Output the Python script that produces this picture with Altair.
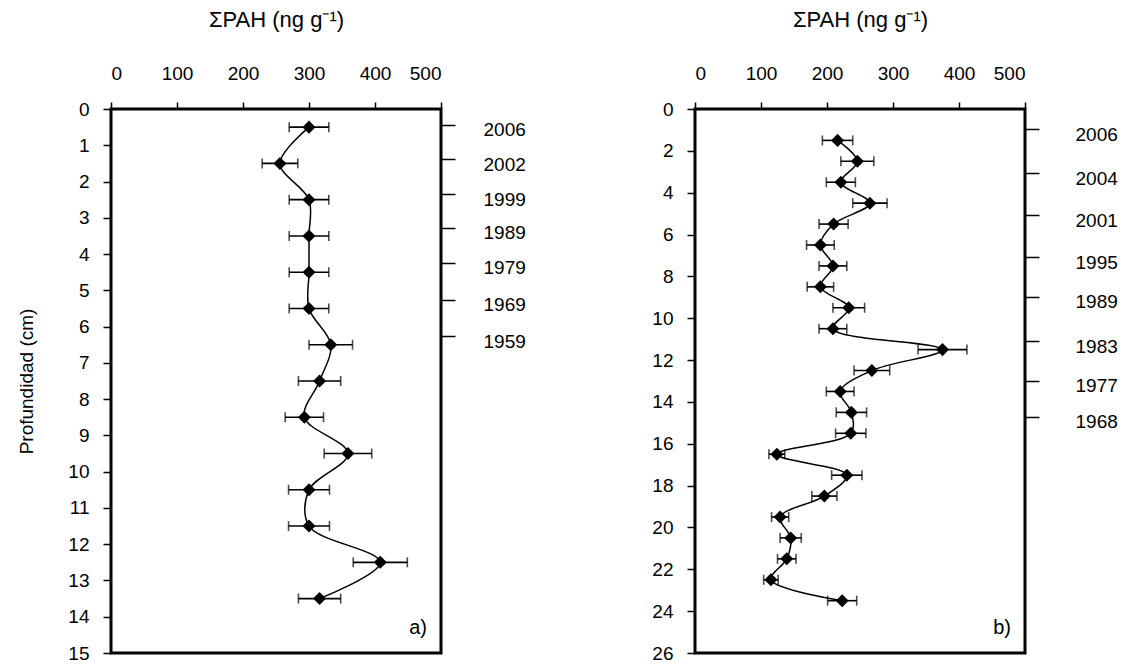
import altair as alt
import pandas as pd

FONT = "Liberation Sans"
FS = 19
TFS = 22

# Panel a)
depth_a = [0.5, 1.5, 2.5, 3.5, 4.5, 5.5, 6.5, 7.5, 8.5, 9.5, 10.5, 11.5, 12.5, 13.5]
pah_a = [300, 256, 300, 300, 300, 300, 333, 316, 293, 359, 300, 300, 408, 316]
err_a = [30, 27, 30, 30, 30, 30, 33, 32, 29, 36, 31, 31, 41, 32]
year_depth_a = [0.44, 1.38, 2.35, 3.28, 4.24, 5.26, 6.27]
year_label_a = ["2006", "2002", "1999", "1989", "1979", "1969", "1959"]

# Panel b)
depth_b = [1.5, 2.5, 3.5, 4.5, 5.5, 6.5, 7.5, 8.5, 9.5, 10.5, 11.5, 12.5,
           13.5, 14.5, 15.5, 16.5, 17.5, 18.5, 19.5, 20.5, 21.5, 22.5, 23.5]
pah_b = [216, 246, 221, 265, 210, 190, 209, 190, 233, 209, 375, 268,
         220, 237, 236, 124, 230, 196, 129, 145, 139, 115, 223]
err_b = [23, 25, 22, 26, 22, 21, 21, 20, 24, 21, 37, 27,
         21, 23, 23, 12, 23, 19, 13, 16, 14, 11, 22]
year_depth_b = [0.96, 3.06, 5.07, 7.09, 8.97, 11.1, 12.98, 14.7]
year_label_b = ["2006", "2004", "2001", "1995", "1989", "1983", "1977", "1968"]

x_ticks = [0, 100, 200, 300, 400, 500]
x_title = "ΣPAH (ng g⁻¹)"
y_title = "Profundidad (cm)"

W, H = 330, 544


def panel(depth, pah, err, ymax, ystep, ydepths, ylabels, tag, ytitle, year_pad):
    df = pd.DataFrame({"depth": depth, "pah": pah, "err": err})
    df["lo"] = df["pah"] - df["err"]
    df["hi"] = df["pah"] + df["err"]
    base = alt.Chart(df)
    yscale = alt.Scale(domain=[0, ymax], reverse=True, nice=False, zero=False)
    xscale = alt.Scale(domain=[0, 500], nice=False)

    xax = alt.Axis(orient="top", values=x_ticks, title=x_title, grid=False,
                   domain=False, tickSize=7, tickWidth=1.5, tickColor="black",
                   labelFontSize=FS, labelFont=FONT, labelColor="black",
                   labelPadding=19, labelOverlap=False, titleFont=FONT,
                   titleFontSize=TFS, titleFontWeight="normal",
                   titleColor="black", titlePadding=33)
    yax = alt.Axis(values=list(range(0, ymax + 1, ystep)), title=ytitle,
                   grid=False, domain=False, tickSize=8, tickWidth=1.5,
                   tickColor="black", labelFontSize=FS, labelFont=FONT,
                   labelColor="black", labelPadding=14, labelOverlap=False,
                   titleFont=FONT, titleFontSize=FS, titleFontWeight="normal",
                   titleColor="black", titlePadding=31)

    def X(f):
        return alt.X(f, scale=xscale, axis=xax, title=x_title)

    def Y(f):
        return alt.Y(f, scale=yscale, axis=yax, title=ytitle)

    line = base.mark_line(color="black", strokeWidth=1.5, interpolate="catmull-rom").encode(
        x=X("pah:Q"), y=Y("depth:Q"), order="depth:Q")
    bars = base.mark_rule(color="black", strokeWidth=1.6).encode(
        x=X("lo:Q"), x2="hi:Q", y=Y("depth:Q"))
    cap_lo = base.mark_tick(color="black", orient="vertical", size=10, thickness=1.6).encode(
        x=X("lo:Q"), y=Y("depth:Q"))
    cap_hi = base.mark_tick(color="black", orient="vertical", size=10, thickness=1.6).encode(
        x=X("hi:Q"), y=Y("depth:Q"))
    pts = base.mark_point(shape="diamond", filled=True, color="black", size=170, opacity=1).encode(
        x=X("pah:Q"), y=Y("depth:Q"))
    lbl = alt.Chart(pd.DataFrame({"t": [tag]})).mark_text(
        font=FONT, fontSize=20, align="right", baseline="middle", color="black").encode(
        text="t:N", x=alt.value(W - 14), y=alt.value(H - 25))

    main = alt.layer(line, bars, cap_lo, cap_hi, pts, lbl)

    expr = " : ".join(f"datum.value == {d} ? '{l}'" for d, l in zip(ydepths, ylabels)) + " : ''"
    ydf = pd.DataFrame({"yd": ydepths})
    years = alt.Chart(ydf).mark_point(opacity=0).encode(
        x=alt.value(0),
        y=alt.Y("yd:Q", scale=yscale,
                axis=alt.Axis(orient="right", values=ydepths, labelExpr=expr, title=None,
                              grid=False, domain=False, tickSize=14, tickWidth=1.5,
                              tickColor="black", labelFontSize=FS, labelFont=FONT,
                              labelColor="black", labelPadding=year_pad, labelOffset=5,
                              labelOverlap=False)),
    )
    return alt.layer(main, years).resolve_scale(y="independent").properties(width=W, height=H)


pa = panel(depth_a, pah_a, err_a, 15, 1, year_depth_a, year_label_a, "a)", y_title, 28)
pb = panel(depth_b, pah_b, err_b, 26, 2, year_depth_b, year_label_b, "b)", "", 36)

chart = alt.hconcat(pa, pb, spacing=123).properties(
    padding={"left": 16, "top": 6, "right": 5, "bottom": 5},
    background="white",
).configure_view(stroke="black", strokeWidth=3)

chart.save("out.html", embed_options={"renderer": "svg", "actions": False})
